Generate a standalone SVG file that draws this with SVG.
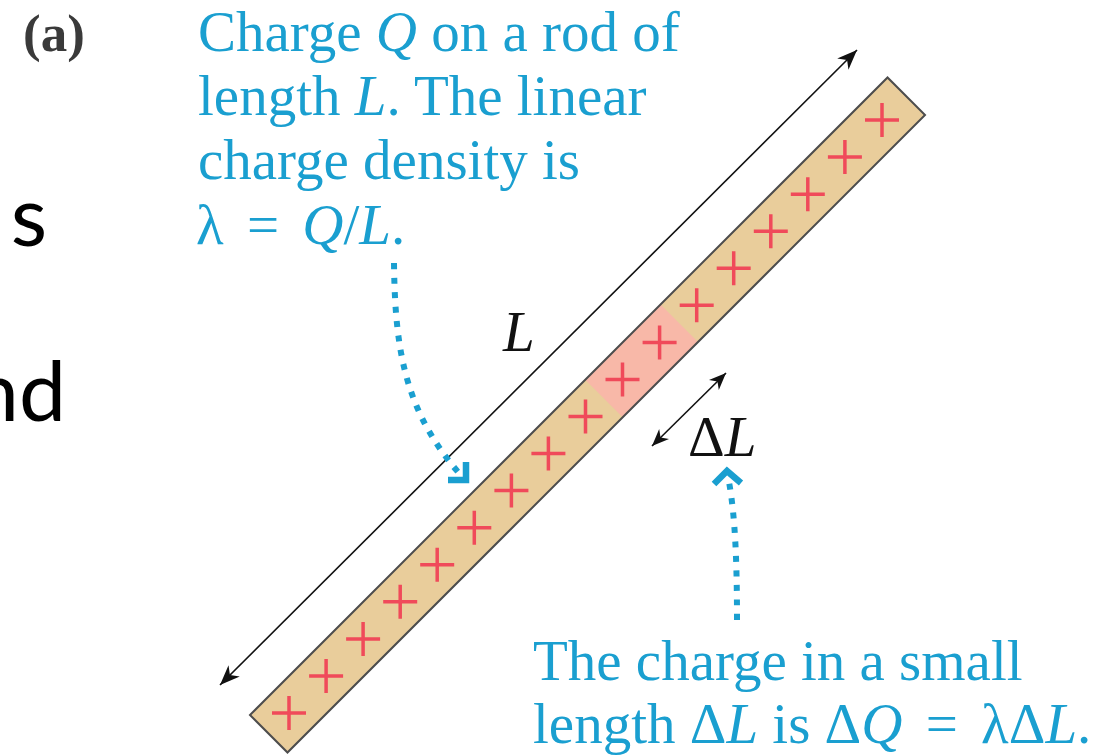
<svg xmlns="http://www.w3.org/2000/svg" xmlns:xlink="http://www.w3.org/1999/xlink" width="1115" height="755" viewBox="0 0 1115 755">
<style>
.cy{font-family:"Liberation Serif","Times New Roman",serif;font-size:57px;fill:#1a9fd0}
.bk{font-family:"Liberation Serif","Times New Roman",serif;font-size:57px;fill:#111}
.it{font-style:italic}
.sans{font-family:Lato,"Open Sans",sans-serif;font-size:84px;fill:#000}
.dot{fill:none;stroke:#1a9fd0;stroke-width:6;stroke-dasharray:6 8.5}
.chev{fill:none;stroke:#1a9fd0;stroke-width:6.5;stroke-linejoin:miter}
.arr{fill:none;stroke:#111;stroke-width:1.6}
</style>
<defs>
<marker id="ah" viewBox="-21 -10 23 20" markerWidth="23" markerHeight="20" refX="0" refY="0" orient="auto-start-reverse" markerUnits="userSpaceOnUse">
<path d="M0,0 L-20,-8 L-14,0 L-20,8 Z" fill="#111"/>
</marker>
<marker id="ah2" viewBox="-19 -9 21 18" markerWidth="21" markerHeight="18" refX="0" refY="0" orient="auto-start-reverse" markerUnits="userSpaceOnUse">
<path d="M0,0 L-17,-7 L-12,0 L-17,7 Z" fill="#111"/>
</marker>
<path id="plus" d="M-17,0 H17 M0,-17 V17" stroke="#f04a5a" stroke-width="3.5" fill="none"/>
</defs>
<rect width="1115" height="755" fill="#fff"/>

<g id="background-text">
<text class="sans" x="47" y="246" text-anchor="end">s</text>
<text class="sans" x="66" y="421" text-anchor="end">nd</text>
</g>

<g id="label-a">
<text x="23" y="51" font-family="'Liberation Serif','Times New Roman',serif" font-size="53" font-weight="bold" fill="#3a3a3a">(a)</text>
</g>

<g id="rod">
<g transform="translate(587.5,415) rotate(-45)">
<rect x="-450.8" y="-26.5" width="901.6" height="53" fill="#e9cd9b"/>
<rect x="23.3" y="-26.5" width="106.5" height="53" fill="#f8b8a8"/>
<rect x="-450.8" y="-26.5" width="901.6" height="53" fill="none" stroke="#4d4d4d" stroke-width="2"/>
</g>
<use xlink:href="#plus" x="289" y="713"/>
<use xlink:href="#plus" x="326.1" y="675.9"/>
<use xlink:href="#plus" x="363.1" y="638.9"/>
<use xlink:href="#plus" x="400.2" y="601.8"/>
<use xlink:href="#plus" x="437.2" y="564.8"/>
<use xlink:href="#plus" x="474.3" y="527.7"/>
<use xlink:href="#plus" x="511.4" y="490.6"/>
<use xlink:href="#plus" x="548.4" y="453.6"/>
<use xlink:href="#plus" x="585.5" y="416.5"/>
<use xlink:href="#plus" x="622.5" y="379.5"/>
<use xlink:href="#plus" x="659.6" y="342.4"/>
<use xlink:href="#plus" x="696.7" y="305.3"/>
<use xlink:href="#plus" x="733.7" y="268.3"/>
<use xlink:href="#plus" x="770.8" y="231.2"/>
<use xlink:href="#plus" x="807.8" y="194.2"/>
<use xlink:href="#plus" x="844.9" y="157.1"/>
<use xlink:href="#plus" x="882" y="120"/>
</g>

<g id="connectors">
<path class="arr" d="M220,685 L857,50" marker-start="url(#ah)" marker-end="url(#ah)"/>
<path class="arr" d="M652,446 L726,373" marker-start="url(#ah2)" marker-end="url(#ah2)"/>
<path class="dot" d="M394,263 C395,350 405,410 458,472"/>
<polyline class="chev" points="466,462 466,480 448,480"/>
<path class="dot" d="M737,620 C737,560 735,515 729,482"/>
<polyline class="chev" points="714,484 727,471 741,483"/>
</g>

<g id="label-L">
<text class="bk it" x="503" y="351">L</text>
</g>
<g id="label-dL">
<text class="bk" x="688" y="456">Δ<tspan class="it">L</tspan></text>
</g>

<g id="note-top">
<text class="cy" x="198" y="51">Charge <tspan class="it">Q</tspan> on a rod of</text>
<text class="cy" x="198" y="115">length <tspan class="it">L</tspan>. The linear</text>
<text class="cy" x="198" y="179">charge density is</text>
<text class="cy" x="196" y="244">λ <tspan dx="9">=</tspan> <tspan class="it" dx="9">Q</tspan>/<tspan class="it">L</tspan>.</text>
</g>

<g id="note-bottom">
<text class="cy" x="533" y="680">The charge in a small</text>
<text class="cy" x="533" y="743">length Δ<tspan class="it">L</tspan> is Δ<tspan class="it">Q</tspan> <tspan dx="9">=</tspan> <tspan dx="9">λΔ</tspan><tspan class="it">L</tspan>.</text>
</g>
</svg>
